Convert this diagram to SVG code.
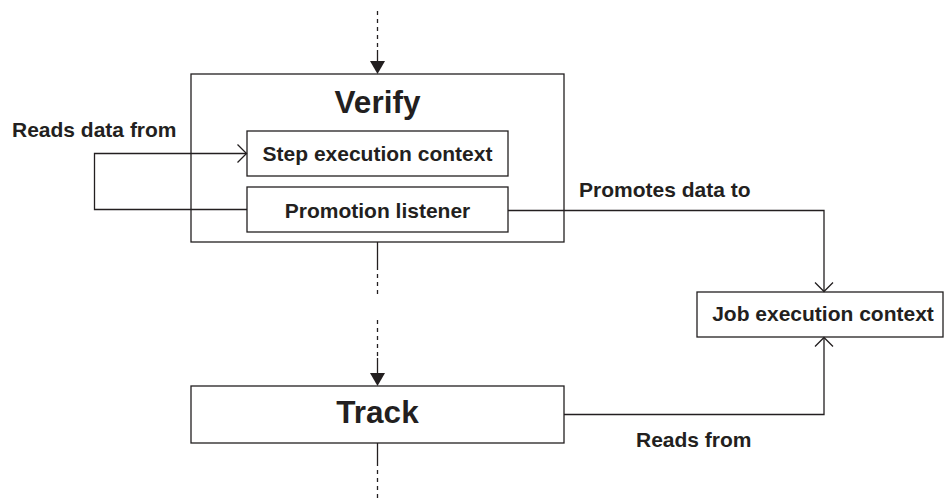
<svg xmlns="http://www.w3.org/2000/svg" width="944" height="499" viewBox="0 0 944 499">
<style>
.box{fill:#fff;stroke:#231f20;stroke-width:1.3}
.ln{fill:none;stroke:#231f20;stroke-width:1.3}
.dash{fill:none;stroke:#231f20;stroke-width:1.3;stroke-dasharray:4 4}
.t{font-family:"Liberation Sans",Arial,Helvetica,sans-serif;font-weight:bold;fill:#231f20}
.s{font-size:21px}
.b{font-size:31.5px}
.head{fill:#231f20}
</style>
<defs>
<marker id="open" markerUnits="userSpaceOnUse" markerWidth="14" markerHeight="22" refX="10" refY="10" orient="auto" viewBox="0 0 14 20">
<path d="M1,1 L10,10 L1,19" fill="none" stroke="#231f20" stroke-width="1.3"/>
</marker>
</defs>
<rect width="944" height="499" fill="#fff"/>
<g id="verify">
<rect class="box" x="191" y="74" width="373" height="168"/>
<text class="t b" x="377.5" y="113" text-anchor="middle">Verify</text>
</g>
<g id="step-context">
<rect class="box" x="247" y="131" width="261" height="45"/>
<text class="t s" x="377.5" y="161" text-anchor="middle">Step execution context</text>
</g>
<g id="promotion-listener">
<rect class="box" x="247" y="187" width="261" height="45"/>
<text class="t s" x="377.5" y="218" text-anchor="middle">Promotion listener</text>
</g>
<g id="job-context">
<rect class="box" x="697" y="292" width="246" height="45"/>
<text class="t s" x="823" y="321" text-anchor="middle">Job execution context</text>
</g>
<g id="track">
<rect class="box" x="191" y="386" width="373" height="57"/>
<text class="t b" x="377.5" y="423" text-anchor="middle">Track</text>
</g>
<g id="connectors">
<line class="dash" x1="377.5" y1="11" x2="377.5" y2="50"/>
<line class="ln" x1="377.5" y1="50" x2="377.5" y2="62"/>
<path class="head" d="M370,61 L385,61 L377.5,74 Z"/>
<line class="ln" x1="377.5" y1="242" x2="377.5" y2="266"/>
<line class="dash" x1="377.5" y1="266" x2="377.5" y2="298"/>
<line class="dash" x1="377.5" y1="320" x2="377.5" y2="358"/>
<line class="ln" x1="377.5" y1="358" x2="377.5" y2="374"/>
<path class="head" d="M370,373 L385,373 L377.5,386 Z"/>
<line class="ln" x1="377.5" y1="443" x2="377.5" y2="466"/>
<line class="dash" x1="377.5" y1="470" x2="377.5" y2="499"/>
<path class="ln" d="M247,209.5 H94.5 V153.5 H246.5" marker-end="url(#open)"/>
<path class="ln" d="M508,210.5 H824 V291.5" marker-end="url(#open)"/>
<path class="ln" d="M564,414.5 H824 V337.5" marker-end="url(#open)"/>
<text class="t s" x="12" y="137">Reads data from</text>
<text class="t s" x="579" y="197">Promotes data to</text>
<text class="t s" x="636" y="447">Reads from</text>
</g>
</svg>
